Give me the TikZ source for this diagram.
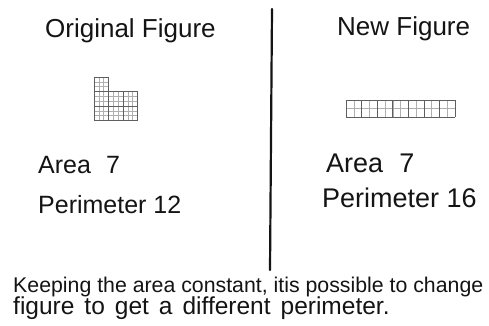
\documentclass[tikz,border=0pt]{standalone}
\usepackage{fontspec}
\setmainfont{Liberation Sans}
\usepackage{tikz}
\usetikzlibrary{positioning}
\definecolor{inkline}{RGB}{20,20,20}
\definecolor{gridfine}{RGB}{175,175,175}
\definecolor{gridunit}{RGB}{95,95,95}
\tikzset{
  every node/.style={inner sep=0pt,text=inkline},
  title/.style={font=\fontsize{26}{30}\selectfont,anchor=base west},
  measure/.style={font=\fontsize{25}{30}\selectfont,anchor=base west},
  remark/.style={font=\fontsize{21.3}{25}\selectfont,anchor=base west},
  finegrid/.style={gridfine,line width=0.4pt},
  unitgrid/.style={gridunit,line width=0.7pt},
  divider/.style={inkline,line width=2.2pt,line cap=round}
}
\begin{document}
\begin{tikzpicture}[x=1pt,y=-1pt]
\fill[white] (0,0) rectangle (489,325);
\useasboundingbox (0,0) rectangle (489,325);
% dividing line
\coordinate (divtop) at (272,9);
\coordinate (divbot) at (270,270);
\draw[divider] (divtop) -- (divbot);
% headings
\node[title] (origtitle) at (45,37) {Original Figure};
\node[title] (newtitle) at (337,35) {New Figure};
% original figure, 7 unit squares
\begin{scope}[shift={(94,120.5)},y=1pt]
  \draw[finegrid] (0,0) grid[step=4.8333] (14.5,43.5);
  \draw[finegrid] (14.5,0) grid[step=4.8333] (43.5,29);
  \draw[unitgrid] (0,0) grid[step=14.5] (14.5,43.5);
  \draw[unitgrid] (14.5,0) grid[step=14.5] (43.5,29);
\end{scope}
% new figure, 7 unit squares in a row
\begin{scope}[shift={(346,117)},y=1pt]
  \draw[finegrid] (0,0) grid[xstep=7.7857,ystep=8.5] (109,17);
  \draw[unitgrid] (0,0) grid[xstep=15.5714,ystep=17] (109,17);
\end{scope}
% measures
\node[measure] (arealeft) at (38,173) {Area\hspace{0.6em}7};
\node[measure] (perimleft) at (38,213) {Perimeter 12};
\node[measure,font=\fontsize{27}{30}\selectfont] (arearight) at (326,172) {Area\hspace{0.6em}7};
\node[measure,font=\fontsize{27}{30}\selectfont] (perimright) at (322,207) {Perimeter 16};
% remark
\node[remark] (remarkA) at (13,292) {Keeping the area constant, itis possible to change};
\node[remark,font=\fontsize{24.5}{26}\selectfont] (remarkB) at (13,314) {\spaceskip=10pt figure to get a different perimeter.};
\end{tikzpicture}
\end{document}
